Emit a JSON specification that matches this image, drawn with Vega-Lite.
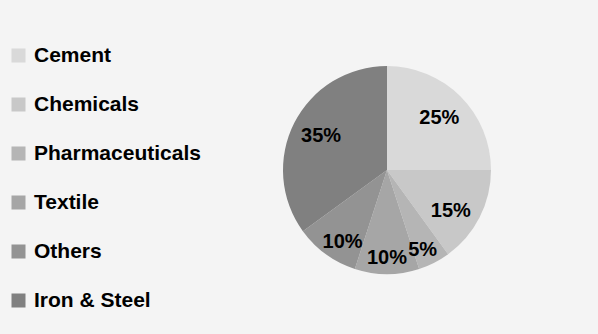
{
  "$schema": "https://vega.github.io/schema/vega-lite/v6.json",
  "width": 210,
  "height": 334,
  "autosize": "none",
  "padding": {"left": 282, "top": 3, "right": 106, "bottom": 0},
  "background": "#f4f4f4",
  "config": {"view": {"stroke": null}},
  "data": {
    "values": [
      {"sector": "Cement", "share": 0.25},
      {"sector": "Chemicals", "share": 0.15},
      {"sector": "Pharmaceuticals", "share": 0.05},
      {"sector": "Textile", "share": 0.10},
      {"sector": "Others", "share": 0.10},
      {"sector": "Iron & Steel", "share": 0.35}
    ]
  },
  "transform": [
    {"window": [{"op": "row_number", "as": "idx"}]},
    {"stack": "share", "groupby": [], "sort": [{"field": "idx", "order": "ascending"}], "as": ["s0", "s1"]},
    {"calculate": "(datum.s0 + datum.s1) / 2", "as": "mid"}
  ],
  "encoding": {
    "text": {"field": "share", "type": "quantitative", "format": ".0%"}
  },
  "layer": [
    {
      "mark": {"type": "arc", "outerRadius": 104},
      "encoding": {
        "theta": {"field": "s0", "type": "quantitative", "stack": false, "scale": {"domain": [0, 1]}},
        "theta2": {"field": "s1"},
        "color": {
          "field": "sector",
          "type": "nominal",
          "sort": ["Cement", "Chemicals", "Pharmaceuticals", "Textile", "Others", "Iron & Steel"],
          "scale": {
            "domain": ["Cement", "Chemicals", "Pharmaceuticals", "Textile", "Others", "Iron & Steel"],
            "range": ["#d9d9d9", "#c8c8c8", "#b5b5b5", "#a6a6a6", "#939393", "#808080"]
          },
          "legend": {
            "orient": "none",
            "legendX": -274,
            "legendY": 42,
            "title": null,
            "symbolType": "square",
            "symbolSize": 196,
            "symbolStrokeWidth": 0,
            "labelFont": "Liberation Sans",
            "labelFontSize": 21,
            "labelFontWeight": "bold",
            "labelColor": "#000000",
            "labelOffset": 5,
            "rowPadding": 27,
            "labelLimit": 300
          }
        }
      }
    },
    {
      "transform": [{"filter": {"field": "sector", "oneOf": ["Cement", "Iron & Steel"]}}],
      "mark": {"type": "text", "font": "Liberation Sans", "fontWeight": "bold", "fontSize": 20, "color": "#000000", "radius": 74},
      "encoding": {"theta": {"field": "mid", "type": "quantitative", "stack": false, "scale": {"domain": [0, 1]}}}
    },
    {
      "transform": [{"filter": {"field": "sector", "equal": "Chemicals"}}],
      "mark": {"type": "text", "font": "Liberation Sans", "fontWeight": "bold", "fontSize": 20, "color": "#000000", "radius": 75, "dy": 7, "dx": -3},
      "encoding": {"theta": {"field": "mid", "type": "quantitative", "stack": false, "scale": {"domain": [0, 1]}}}
    },
    {
      "transform": [{"filter": {"field": "sector", "equal": "Pharmaceuticals"}}],
      "mark": {"type": "text", "font": "Liberation Sans", "fontWeight": "bold", "fontSize": 20, "color": "#000000", "radius": 85, "dx": -3, "dy": 4},
      "encoding": {"theta": {"field": "mid", "type": "quantitative", "stack": false, "scale": {"domain": [0, 1]}}}
    },
    {
      "transform": [{"filter": {"field": "sector", "equal": "Textile"}}],
      "mark": {"type": "text", "font": "Liberation Sans", "fontWeight": "bold", "fontSize": 20, "color": "#000000", "radius": 88},
      "encoding": {"theta": {"field": "mid", "type": "quantitative", "stack": false, "scale": {"domain": [0, 1]}}}
    },
    {
      "transform": [{"filter": {"field": "sector", "equal": "Others"}}],
      "mark": {"type": "text", "font": "Liberation Sans", "fontWeight": "bold", "fontSize": 20, "color": "#000000", "radius": 84, "dx": 5, "dy": 4},
      "encoding": {"theta": {"field": "mid", "type": "quantitative", "stack": false, "scale": {"domain": [0, 1]}}}
    }
  ]
}
